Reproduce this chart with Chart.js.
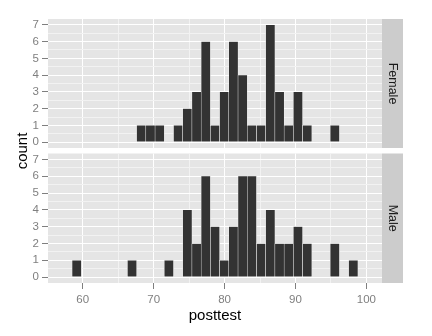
<!DOCTYPE html>
<html>
<head>
<meta charset="utf-8">
<script src="https://cdn.jsdelivr.net/npm/chart.js@4/dist/chart.umd.min.js"></script>
<style>
  body { margin: 0; background: #fff; }
  #wrap { position: relative; width: 432px; height: 336px; }
  canvas { position: absolute; left: 0; top: 0; }
</style>
</head>
<body>
<div id="wrap">
  <canvas id="male" width="432" height="336"></canvas>
  <canvas id="female" width="432" height="336"></canvas>
</div>
<script>
// histogram bins (midpoints), 30 default ggplot bins of width 1.3
const binMids = [59.15, 60.45, 61.75, 63.05, 64.35, 65.65, 66.95, 68.25, 69.55, 70.85,
                 72.15, 73.45, 74.75, 76.05, 77.35, 78.65, 79.95, 81.25, 82.55, 83.85,
                 85.15, 86.45, 87.75, 89.05, 90.35, 91.65, 92.95, 94.25, 95.55, 96.85, 98.15];
const femaleCounts = [0, 0, 0, 0, 0, 0, 0, 1, 1, 1, 0, 1, 2, 3, 6, 1, 3, 6, 4, 1, 1, 7, 3, 1, 3, 1, 0, 0, 1, 0, 0];
const maleCounts   = [1, 0, 0, 0, 0, 0, 1, 0, 0, 0, 1, 0, 4, 2, 6, 3, 1, 3, 6, 6, 2, 4, 2, 2, 3, 2, 0, 0, 2, 0, 1];
const panels = ["Female", "Male"];
const xTicks = [60, 70, 80, 90, 100];
const yTicks = [0, 1, 2, 3, 4, 5, 6, 7];
const xTitle = "posttest";
const yTitle = "count";

const FONT = "'Liberation Sans', Arial, sans-serif";
const GREY_TXT = "#7f7f7f";

// major + minor grid positions
const xAll = xTicks.flatMap((v, i) => i < xTicks.length - 1 ? [v, (v + xTicks[i + 1]) / 2] : [v]);
const yAll = yTicks.flatMap((v, i) => i < yTicks.length - 1 ? [v, (v + yTicks[i + 1]) / 2] : [v]);

const panelBg = {
    id: "panelBg",
    beforeDraw(chart) {
        const {ctx, chartArea: a} = chart;
        ctx.save();
        ctx.fillStyle = "#e5e5e5";
        ctx.fillRect(a.left, a.top, a.right - a.left, a.bottom - a.top);
        ctx.restore();
    }
};

const strip = {
    id: "strip",
    afterDraw(chart, args, opts) {
        const {ctx, chartArea: a} = chart;
        ctx.save();
        ctx.fillStyle = "#cccccc";
        ctx.fillRect(a.right, a.top, 21, a.bottom - a.top);
        ctx.translate(a.right + 10.5, (a.top + a.bottom) / 2);
        ctx.rotate(Math.PI / 2);
        ctx.fillStyle = "#1a1a1a";
        ctx.font = "12.5px " + FONT;
        ctx.textAlign = "center";
        ctx.textBaseline = "middle";
        ctx.fillText(opts.label, 0, 0);
        ctx.restore();
    }
};

// shared y title, centred between the two panels
const yLabel = {
    id: "yLabel",
    afterDraw(chart, args, opts) {
        if (!opts.text) return;
        const ctx = chart.ctx;
        ctx.save();
        ctx.translate(23, 151);
        ctx.rotate(-Math.PI / 2);
        ctx.fillStyle = "#000";
        ctx.font = "15px " + FONT;
        ctx.textAlign = "center";
        ctx.textBaseline = "middle";
        ctx.fillText(opts.text, 0, 0);
        ctx.restore();
    }
};

function makeChart(id, label, counts, top, showX){
    return new Chart(document.getElementById(id), {
        type: "bar",
        data: {
            datasets: [{
                label: label,
                data: binMids.map((m, i) => ({x: m, y: counts[i]})),
                backgroundColor: "#333333",
                borderColor: "#ffffff",
                borderWidth: 0.5,
                borderSkipped: false,
                categoryPercentage: 1,
                barPercentage: 1
            }]
        },
        options: {
            responsive: false,
            animation: false,
            devicePixelRatio: 1,
            layout: {
                padding: {top: top, right: 50, left: 0, bottom: showX ? 0 : 188}
            },
            plugins: {
                legend: {display: false},
                tooltip: {enabled: false},
                strip: {label: label},
                yLabel: {text: showX ? yTitle : ""}
            },
            scales: {
                x: {
                    type: "linear",
                    min: 55.1,
                    max: 102.2,
                    bounds: "data",
                    offset: false,
                    afterBuildTicks: s => { s.ticks = xAll.map(v => ({value: v})); },
                    afterFit: s => { s.height = showX ? 53 : 0; },
                    border: {display: false},
                    grid: {
                        offset: false,
                        color: c => xTicks.includes(c.tick.value) ? "#ffffff" : "#f2f2f2",
                        lineWidth: 1,
                        drawTicks: showX,
                        tickLength: 6,
                        tickColor: c => xTicks.includes(c.tick.value) ? GREY_TXT : "rgba(0,0,0,0)"
                    },
                    ticks: {
                        display: showX,
                        autoSkip: false,
                        maxRotation: 0,
                        padding: 4,
                        color: GREY_TXT,
                        font: {family: FONT, size: 11.5},
                        callback: v => xTicks.includes(v) ? String(v) : ""
                    },
                    title: {
                        display: showX,
                        text: xTitle,
                        color: "#000",
                        font: {family: FONT, size: 15},
                        padding: {top: 0, bottom: 11}
                    }
                },
                y: {
                    min: -0.35,
                    max: 7.35,
                    bounds: "data",
                    afterBuildTicks: s => { s.ticks = yAll.map(v => ({value: v})); },
                    afterFit: s => { s.width = 48; },
                    border: {display: false},
                    grid: {
                        color: c => yTicks.includes(c.tick.value) ? "#ffffff" : "#f2f2f2",
                        lineWidth: 1,
                        tickLength: 6,
                        tickColor: c => yTicks.includes(c.tick.value) ? GREY_TXT : "rgba(0,0,0,0)"
                    },
                    ticks: {
                        autoSkip: false,
                        padding: 3,
                        color: GREY_TXT,
                        font: {family: FONT, size: 11.5},
                        callback: v => yTicks.includes(v) ? String(v) : ""
                    }
                }
            }
        },
        plugins: [panelBg, strip, yLabel]
    });
}

makeChart("female", panels[0], femaleCounts, 19, false);
makeChart("male", panels[1], maleCounts, 153.5, true);
</script>
</body>
</html>
